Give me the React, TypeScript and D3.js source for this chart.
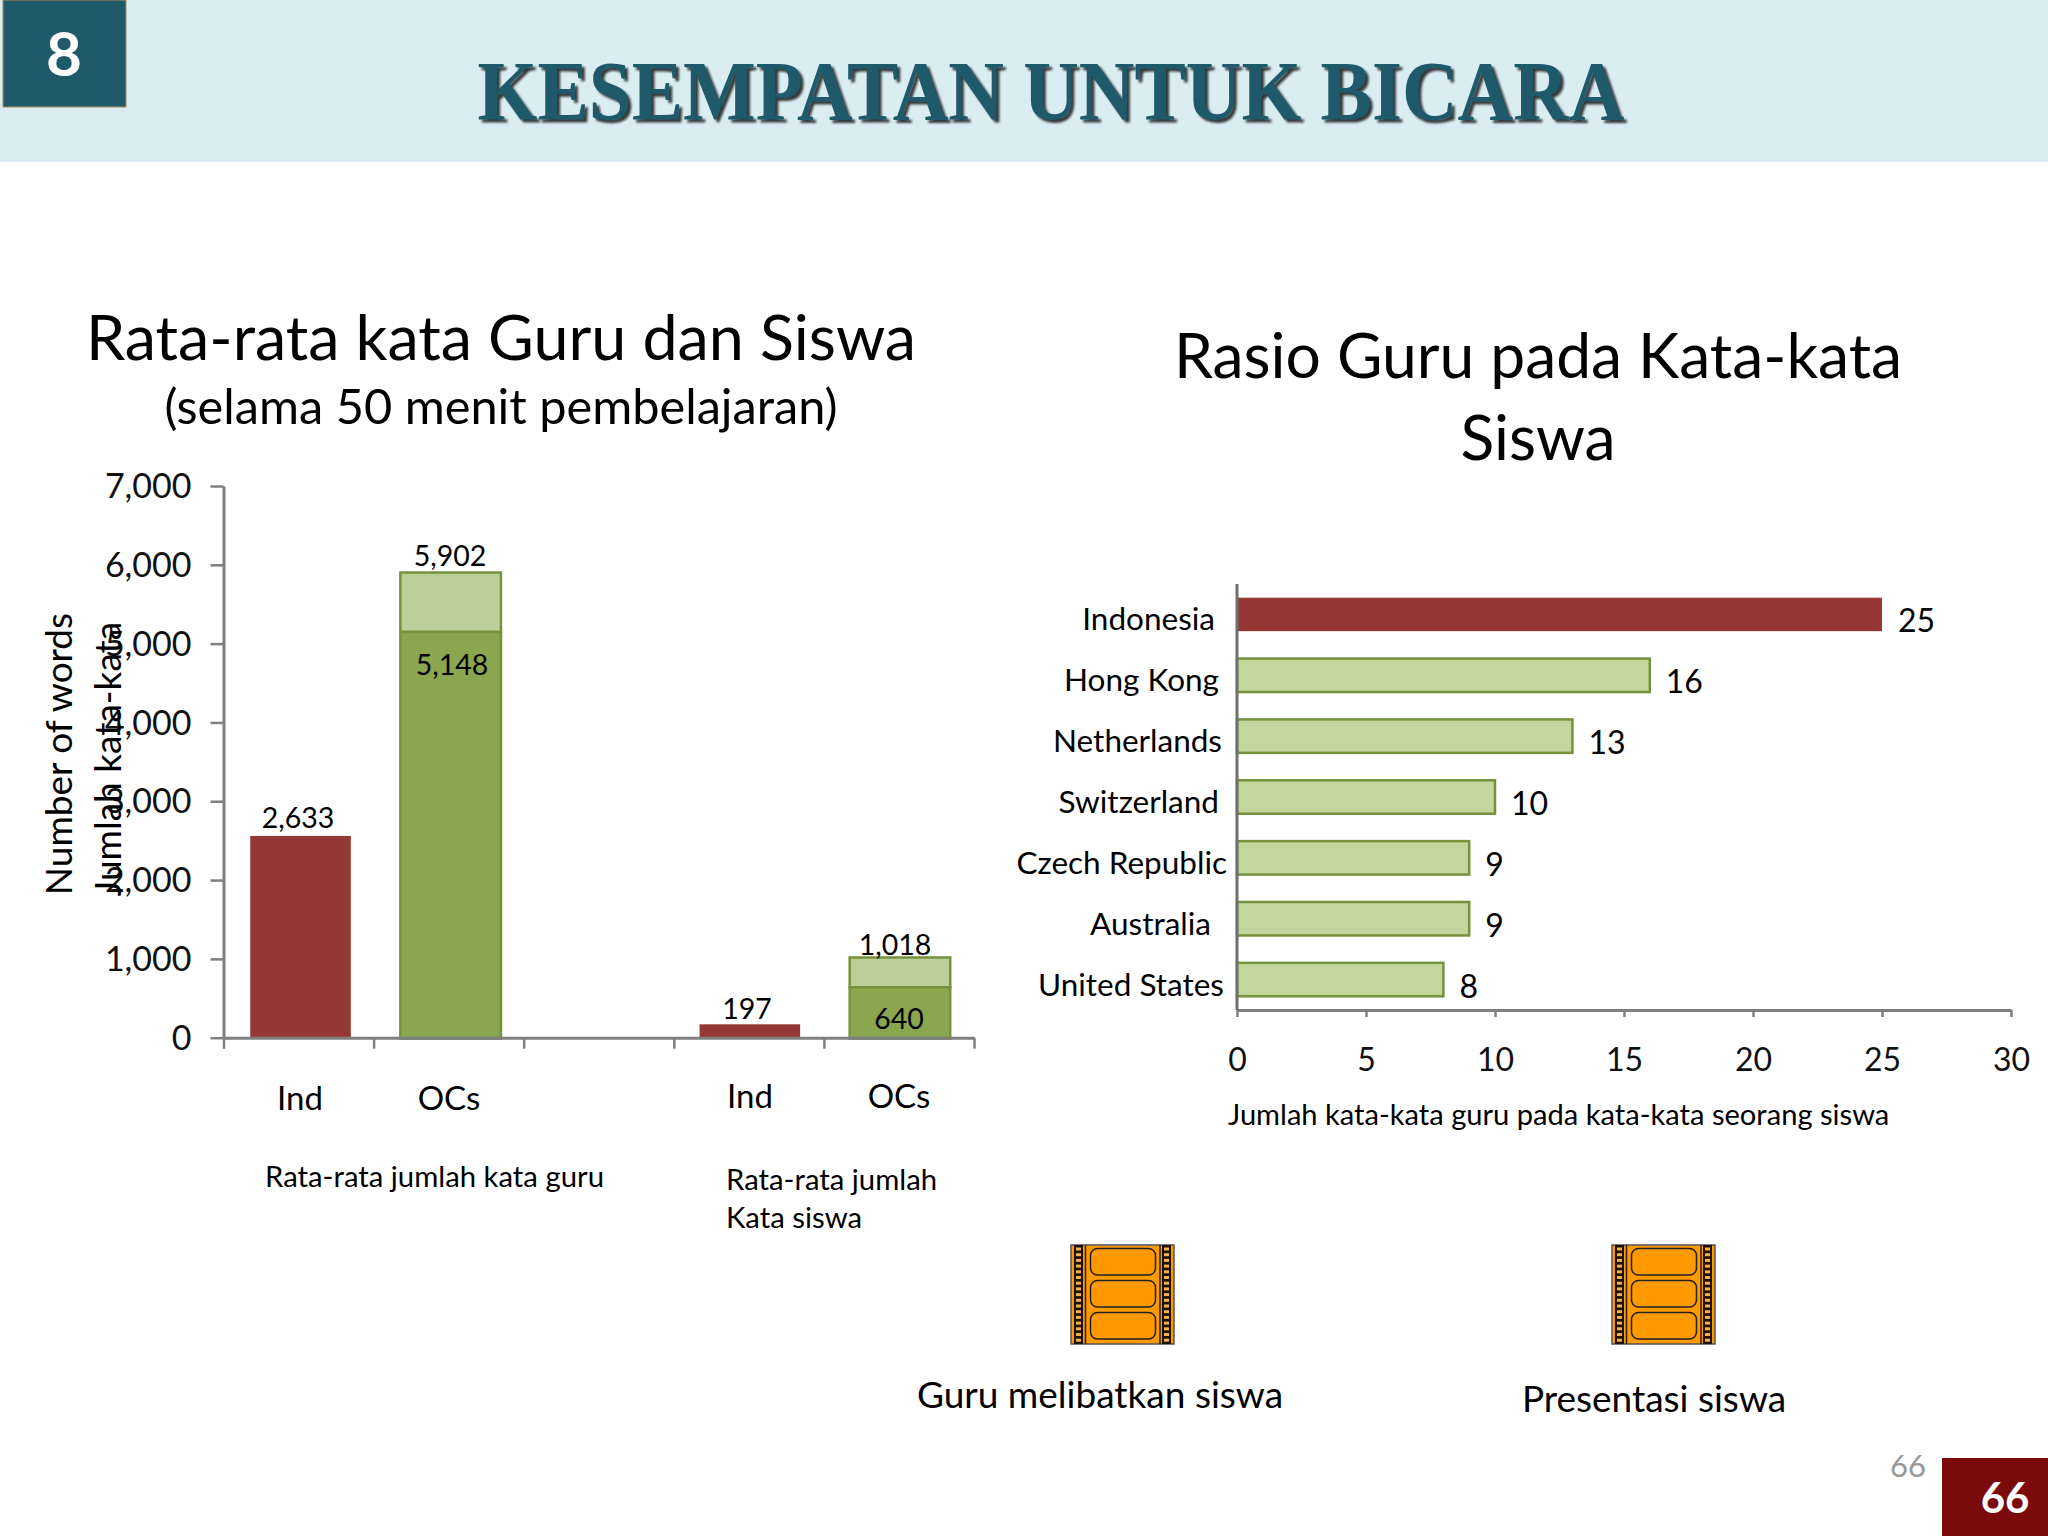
import { useRef, useEffect } from 'react';
import * as d3 from 'd3';

// left chart: words in a 50 minute lesson
const WORD_GROUPS = ['Ind', 'OCs', '', 'Ind', 'OCs'];
const WORD_BASE = [2560, 5148, 0, 170, 640];
const WORD_TOP = [0, 5902, 0, 0, 1018];
const WORD_COLOUR = ['red', 'green', 'none', 'red', 'green'];
const WORD_TICKS = [0, 1000, 2000, 3000, 4000, 5000, 6000, 7000];

// right chart: teacher words per student word
const COUNTRIES = ['Indonesia', 'Hong Kong', 'Netherlands', 'Switzerland', 'Czech Republic', 'Australia', 'United States'];
const RATIOS = [25, 16, 13, 10, 9, 9, 8];
const RATIO_TICKS = [0, 5, 10, 15, 20, 25, 30];

const FONT = 'Lato, "Open Sans", sans-serif';
const RED = '#953735';
const TEAL = '#1F5A6B';

type G = d3.Selection<SVGGElement, unknown, null, undefined>;

function label(g: G, str: string, x: number, y: number, size: number, anchor = 'middle', fill = '#000') {
  return g.append('text')
    .attr('x', x)
    .attr('y', y)
    .attr('text-anchor', anchor)
    .attr('font-family', FONT)
    .attr('font-size', size)
    .attr('fill', fill)
    .text(str);
}

function filmIcon(g: G, left: number, top: number) {
  const icon = g.append('g').attr('transform', `translate(${left},${top})`);
  icon.append('rect').attr('width', 103).attr('height', 99).attr('fill', '#FF9900').attr('stroke', '#555').attr('stroke-width', 1.5);
  [3, 91].forEach((sx) => {
    icon.append('rect').attr('x', sx).attr('width', 9).attr('height', 99).attr('fill', '#1a1005');
    d3.range(17).forEach((i) => {
      icon.append('rect')
        .attr('x', sx + 2)
        .attr('y', 2.5 + i * 5.7)
        .attr('width', 5)
        .attr('height', 3)
        .attr('fill', '#F5B041');
    });
  });
  [14.5, 89].forEach((lx) => {
    icon.append('line').attr('x1', lx).attr('x2', lx).attr('y1', 0).attr('y2', 99).attr('stroke', '#222').attr('stroke-width', 1.5);
  });
  [0, 1, 2].forEach((i) => {
    icon.append('rect')
      .attr('x', 19.5)
      .attr('y', 3.5 + i * 32)
      .attr('width', 65)
      .attr('height', 26.5)
      .attr('rx', 7)
      .attr('fill', '#FF9900')
      .attr('stroke', '#222')
      .attr('stroke-width', 1.5);
  });
}

export default function App() {
  const svgRef = useRef<SVGSVGElement>(null);

  useEffect(() => {
    const svg = d3.select(svgRef.current!);
    svg.selectAll('*').remove();
    const root = svg.append('g') as unknown as G;

    svg.append('defs').append('filter').attr('id', 'soft')
      .append('feGaussianBlur').attr('stdDeviation', 1);

    // Header band
    root.append('rect').attr('width', 2048).attr('height', 162).attr('fill', '#D9EDF3');
    root.append('rect').attr('x', 3).attr('y', 0).attr('width', 123).attr('height', 107)
      .attr('fill', TEAL).attr('stroke', '#B08A55').attr('stroke-width', 1);
    label(root, '8', 64, 76, 62, 'middle', '#fff').attr('font-weight', 700);
    const titleFont = '"Liberation Serif", serif';
    label(root, 'KESEMPATAN UNTUK BICARA', 1051, 120, 84, 'middle', '#111')
      .attr('font-family', titleFont).attr('font-weight', 700)
      .attr('textLength', 1147).attr('lengthAdjust', 'spacingAndGlyphs')
      .attr('transform', 'translate(3,3)').attr('opacity', 0.8).attr('filter', 'url(#soft)');
    label(root, 'KESEMPATAN UNTUK BICARA', 1051, 120, 84, 'middle', TEAL)
      .attr('font-family', titleFont).attr('font-weight', 700)
      .attr('textLength', 1147).attr('lengthAdjust', 'spacingAndGlyphs');

    // Chart titles
    label(root, 'Rata-rata kata Guru dan Siswa', 501, 360, 62.8);
    label(root, '(selama 50 menit pembelajaran)', 501, 424, 48.7);
    label(root, 'Rasio Guru pada Kata-kata', 1538, 378, 62.4);
    label(root, 'Siswa', 1538, 460, 62.4);

    // Left chart
    const left = { x0: 223.5, x1: 974, y0: 1037.7, y1: 486 };
    const y = d3.scaleLinear().domain([0, 7000]).range([left.y0, left.y1]);
    const edge = d3.scaleLinear().domain([0, WORD_GROUPS.length]).range([left.x0, left.x1]);
    const x = d3.scaleBand<number>()
      .domain(d3.range(WORD_GROUPS.length))
      .range([left.x0, left.x1])
      .paddingInner(0.33)
      .paddingOuter(0.165);

    const lc = root.append('g');
    WORD_GROUPS.forEach((_, i) => {
      if (WORD_COLOUR[i] === 'none') return;
      const isRed = WORD_COLOUR[i] === 'red';
      const bx = x(i)! + (i < 2 ? 2 : 1);
      if (WORD_TOP[i]) {
        lc.append('rect')
          .attr('x', bx)
          .attr('y', y(WORD_TOP[i]))
          .attr('width', x.bandwidth())
          .attr('height', y(WORD_BASE[i]) - y(WORD_TOP[i]))
          .attr('fill', '#BBD098')
          .attr('stroke', '#76923C')
          .attr('stroke-width', 2.5);
      }
      lc.append('rect')
        .attr('x', bx)
        .attr('y', y(WORD_BASE[i]))
        .attr('width', x.bandwidth())
        .attr('height', y(0) - y(WORD_BASE[i]) + 1)
        .attr('fill', isRed ? RED : '#8AA64E')
        .attr('stroke', isRed ? 'none' : '#76923C')
        .attr('stroke-width', 2.5);
    });

    const yAxis = root.append('g')
      .attr('transform', `translate(${left.x0},0)`)
      .call(d3.axisLeft(y).tickValues(WORD_TICKS).tickFormat(d3.format(',') as any).tickSize(13).tickSizeOuter(0).tickPadding(19));
    const xAxis = root.append('g')
      .attr('transform', `translate(0,${left.y0})`)
      .call(d3.axisBottom(edge).tickValues(d3.range(WORD_GROUPS.length + 1)).tickFormat(() => '').tickSize(11).tickSizeOuter(0));
    [yAxis, xAxis].forEach((a) => {
      a.select('.domain').attr('stroke', '#7f7f7f').attr('stroke-width', 3);
      a.selectAll('.tick line').attr('stroke', '#7f7f7f').attr('stroke-width', 2.5);
      a.selectAll('.tick text').attr('font-family', FONT).attr('font-size', 34).attr('fill', '#111').attr('dy', '0.34em');
    });

    // data labels as printed on the slide
    label(root, '5,902', 450, 566, 28.5);
    label(root, '5,148', 452, 675, 28.5);
    label(root, '2,633', 298, 828, 28.5);
    label(root, '197', 747, 1019, 28.5);
    label(root, '1,018', 895, 955, 28.5);
    label(root, '640', 899, 1029, 28.5);

    label(root, WORD_GROUPS[0], 300, 1110, 33);
    label(root, WORD_GROUPS[1], 449, 1110, 33);
    label(root, WORD_GROUPS[3], 750, 1108, 33);
    label(root, WORD_GROUPS[4], 899, 1108, 33);

    label(root, 'Rata-rata jumlah kata guru', 265, 1187, 29.3, 'start');
    label(root, 'Rata-rata jumlah', 726, 1190, 29.3, 'start');
    label(root, 'Kata siswa', 726, 1228, 29.3, 'start');

    label(root, 'Number of words', 0, 0, 37).attr('transform', 'translate(72,754) rotate(-90)');
    label(root, 'Jumlah kata-kata', 0, 0, 37).attr('transform', 'translate(121,759) rotate(-90)');

    // Right chart
    const right = { x0: 1237, x1: 2011, y0: 1010, y1: 584 };
    const rx = d3.scaleLinear().domain([0, 30]).range([right.x0, right.x1]);
    const ry = d3.scaleBand().domain(COUNTRIES).range([right.y1, right.y0]).paddingInner(0.45).paddingOuter(0.225);
    const countryRight = [1215, 1219, 1222, 1219, 1227, 1211, 1224];

    COUNTRIES.forEach((c, i) => {
      const isFirst = i === 0;
      root.append('rect')
        .attr('x', rx(0))
        .attr('y', ry(c)!)
        .attr('width', rx(RATIOS[i]) - rx(0))
        .attr('height', ry.bandwidth())
        .attr('fill', isFirst ? RED : '#C3D69B')
        .attr('stroke', isFirst ? 'none' : '#76923C')
        .attr('stroke-width', 2.5);
      const mid = ry(c)! + ry.bandwidth() / 2;
      label(root, c, countryRight[i], mid + 16, 31.5, 'end');
      label(root, String(RATIOS[i]), rx(RATIOS[i]) + 16, mid + 18, 32, 'start');
    });

    const rxAxis = root.append('g')
      .attr('transform', `translate(0,${right.y0})`)
      .call(d3.axisBottom(rx).tickValues(RATIO_TICKS).tickSize(7).tickSizeOuter(0).tickPadding(31));
    rxAxis.select('.domain').attr('stroke', '#7f7f7f').attr('stroke-width', 3);
    rxAxis.selectAll('.tick line').attr('stroke', '#7f7f7f').attr('stroke-width', 2.5);
    rxAxis.selectAll('.tick text').attr('font-family', FONT).attr('font-size', 32).attr('fill', '#111');
    root.append('line')
      .attr('x1', right.x0).attr('x2', right.x0).attr('y1', right.y1).attr('y2', right.y0)
      .attr('stroke', '#6f6f6f').attr('stroke-width', 3);

    label(root, 'Jumlah kata-kata guru pada kata-kata seorang siswa', 1228, 1125, 29.1, 'start');

    // Video icons and captions
    filmIcon(root, 1071, 1245);
    filmIcon(root, 1612, 1245);
    label(root, 'Guru melibatkan siswa', 1100, 1408, 37);
    label(root, 'Presentasi siswa', 1654, 1412, 37);

    // Page number
    label(root, '66', 1908, 1477, 31, 'middle', '#999');
    root.append('rect').attr('x', 1942).attr('y', 1458).attr('width', 106).attr('height', 78).attr('fill', '#7B0A0A');
    label(root, '66', 2005, 1513, 42, 'middle', '#fff').attr('font-weight', 700);
  }, []);

  return (
    <svg
      ref={svgRef}
      width={2048}
      height={1536}
      style={{ position: 'fixed', left: 0, top: 0, background: '#fff' }}
    />
  );
}
